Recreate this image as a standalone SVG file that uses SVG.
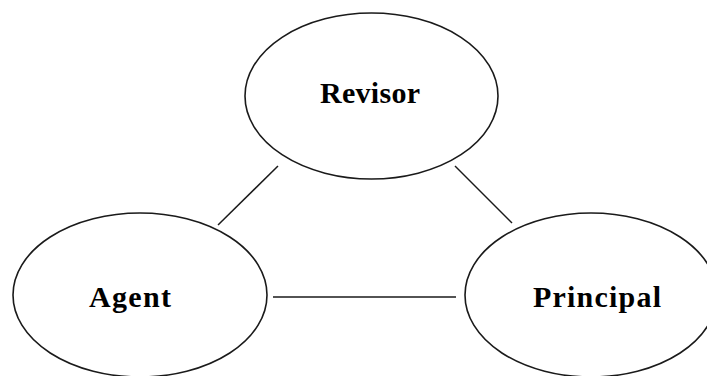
<svg xmlns="http://www.w3.org/2000/svg" width="707" height="376" viewBox="0 0 707 376">
  <style>
    .node ellipse { fill: #ffffff; stroke: #1a1a1a; stroke-width: 1.6; }
    .node text { font-family: "Liberation Serif", "Times New Roman", serif; font-weight: bold; font-size: 30px; fill: #000000; }
    .links line { stroke: #1a1a1a; stroke-width: 1.5; }
  </style>
  <rect width="707" height="376" fill="#ffffff"/>
  <g class="links">
    <line x1="278" y1="166" x2="218" y2="225"/>
    <line x1="455" y1="166" x2="512" y2="223"/>
    <line x1="273" y1="297" x2="456" y2="297"/>
  </g>
  <g id="revisor" class="node">
    <ellipse cx="371.5" cy="96" rx="126.5" ry="83"/>
    <text x="320" y="103" textLength="100" lengthAdjust="spacing">Revisor</text>
  </g>
  <g id="agent" class="node">
    <ellipse cx="140" cy="295" rx="127" ry="82"/>
    <text x="89" y="307" textLength="82" lengthAdjust="spacing">Agent</text>
  </g>
  <g id="principal" class="node">
    <ellipse cx="591" cy="295" rx="126" ry="82"/>
    <text x="533" y="307" textLength="128" lengthAdjust="spacing">Principal</text>
  </g>
</svg>
